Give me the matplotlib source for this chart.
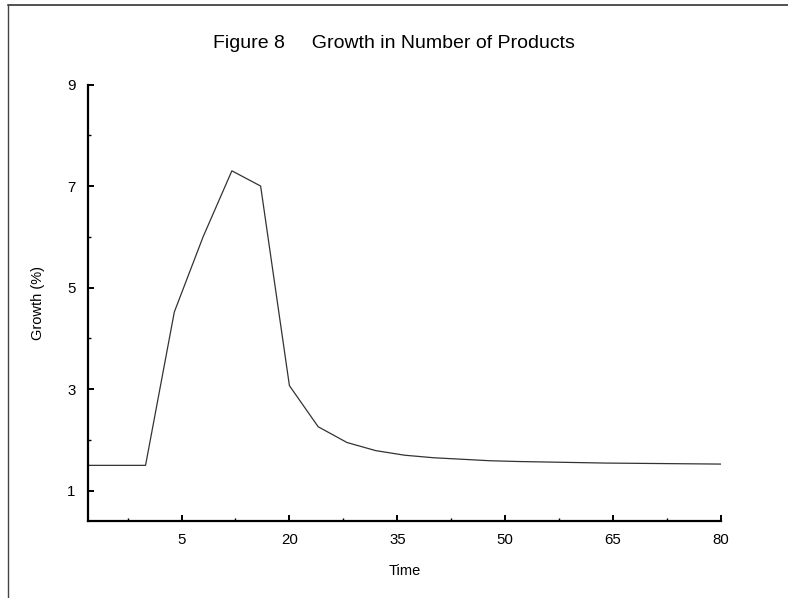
import matplotlib
matplotlib.use("Agg")
import matplotlib.pyplot as plt
from matplotlib.lines import Line2D
from matplotlib.ticker import FixedLocator, NullFormatter

plt.rcParams['font.family'] = ['Liberation Sans', 'DejaVu Sans']

# Growth series, sampled every 4 periods
time = [-8, -4, 0, 4, 8, 12, 16, 20, 24, 28, 32, 36, 40, 44, 48,
        52, 56, 60, 64, 68, 72, 76, 80]
growth = [1.5, 1.5, 1.5, 4.52, 6.0, 7.3, 7.0, 3.07, 2.26, 1.95, 1.79, 1.70,
          1.65, 1.62, 1.59, 1.575, 1.565, 1.555, 1.545, 1.54, 1.535, 1.53, 1.525]

x_major = [5, 20, 35, 50, 65, 80]
x_minor = [-2.5, 12.5, 27.5, 42.5, 57.5, 72.5]
y_major = [1, 3, 5, 7, 9]
y_minor = [2, 4, 6, 8]

title = "Figure 8     Growth in Number of Products"

fig = plt.figure(figsize=(7.88, 5.98), dpi=100)
ax = fig.add_axes([88 / 788, 1 - 520.7 / 598, (721 - 88) / 788, (520.7 - 84.5) / 598])

ax.plot(time, growth, color='#333333', linewidth=0.9)

ax.set_xlim(-8, 80)
ax.set_ylim(0.41, 9)

ax.xaxis.set_major_locator(FixedLocator(x_major))
ax.xaxis.set_minor_locator(FixedLocator(x_minor))
ax.set_xticklabels([str(v) for v in x_major])
ax.xaxis.set_minor_formatter(NullFormatter())
ax.yaxis.set_major_locator(FixedLocator(y_major))
ax.yaxis.set_minor_locator(FixedLocator(y_minor))
ax.set_yticklabels([str(v) for v in y_major])
ax.yaxis.set_minor_formatter(NullFormatter())

for side in ('top', 'right'):
    ax.spines[side].set_visible(False)
for side in ('left', 'bottom'):
    ax.spines[side].set_linewidth(1.6)
    ax.spines[side].set_color('black')

ax.tick_params(which='major', direction='in', length=4.5, width=1.4,
               labelsize=10.8, pad=9, colors='black')
ax.tick_params(which='minor', direction='in', length=2.3, width=1.0)
ax.tick_params(axis='y', which='major', pad=9)

ax.set_xlabel("Time", fontsize=10.5, labelpad=12)
ax.set_ylabel("Growth (%)", fontsize=10.5, labelpad=16)

fig.text(0.5, 1 - 43 / 598, title, ha='center', va='center', fontsize=14)

# Page frame: top rule and left rule
fig.add_artist(Line2D([8 / 788, 1.0], [1 - 4.7 / 598, 1 - 4.7 / 598],
                      transform=fig.transFigure, color='#222222', linewidth=1.1))
fig.add_artist(Line2D([7.5 / 788, 7.5 / 788], [0.0, 1 - 4.7 / 598],
                      transform=fig.transFigure, color='#444444', linewidth=1.0))

fig.savefig("out.png", dpi=100)
